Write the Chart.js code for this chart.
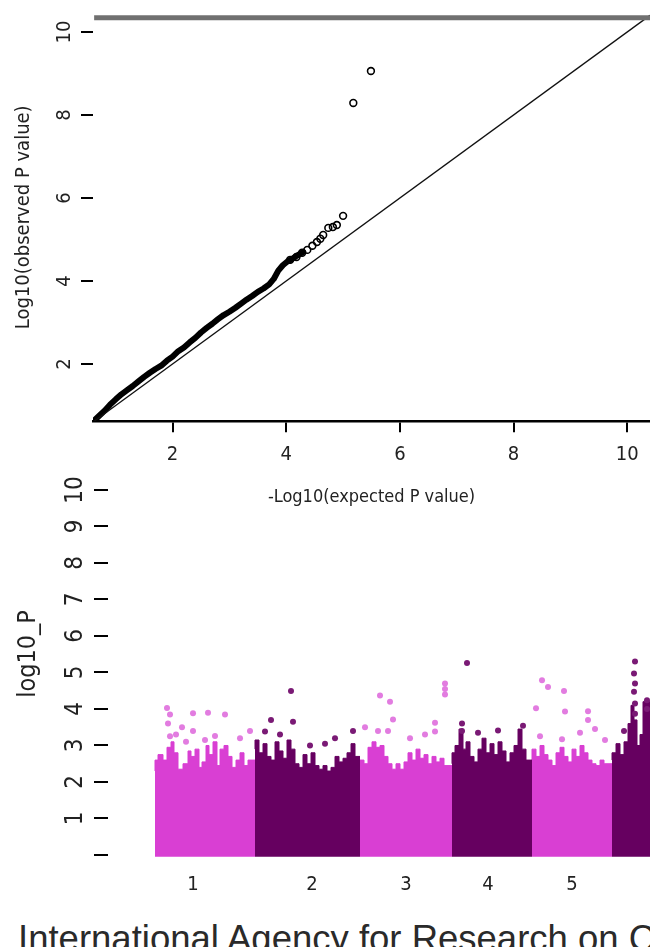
<!DOCTYPE html>
<html>
  <head>
    <title>QQ plot and Manhattan plot</title>
    <script src="https://cdn.jsdelivr.net/npm/chart.js"></script>
    <style>
      html, body { margin: 0; padding: 0; overflow: hidden; background: #fff; }
      body { width: 650px; height: 947px; position: relative; }
      canvas { position: absolute; left: 0; }
      #qq { top: 0; }
      #man { top: 470px; }
      #caption {
        position: absolute; left: 18px; top: 921px;
        font: 36.5px "Liberation Sans", Arial, sans-serif; line-height: 36.5px;
        color: #2a2a2a; white-space: nowrap;
      }
    </style>
  </head>
  <body>
    <canvas id="qq" width="650" height="520" style="width:650px;height:520px"></canvas>
    <canvas id="man" width="650" height="430" style="width:650px;height:430px"></canvas>
    <div id="caption">International Agency for Research on Cancer</div>
    <script>
      // ---- QQ plot data ----
      const qqBandExp = [0.62, 0.70, 0.80, 0.90, 1.00, 1.10, 1.20, 1.30, 1.40, 1.50, 1.60, 1.70, 1.80, 1.90, 2.00, 2.10, 2.20, 2.30, 2.40, 2.50, 2.60, 2.70, 2.80, 2.90, 3.00, 3.10, 3.20, 3.30, 3.40, 3.50, 3.60, 3.70, 3.78, 3.86, 3.94, 4.02, 4.10, 4.20, 4.30];
      const qqBandObs = [0.64, 0.74, 0.87, 1.02, 1.15, 1.27, 1.37, 1.47, 1.58, 1.69, 1.79, 1.88, 1.96, 2.08, 2.18, 2.31, 2.40, 2.52, 2.63, 2.76, 2.87, 2.97, 3.08, 3.18, 3.26, 3.35, 3.45, 3.55, 3.64, 3.74, 3.82, 3.92, 4.05, 4.25, 4.38, 4.47, 4.53, 4.62, 4.70];
      const qqPtExp = [4.07, 4.18, 4.28, 4.37, 4.46, 4.54, 4.60, 4.65, 4.74, 4.82, 4.89, 5.00, 5.18, 5.49];
      const qqPtObs = [4.51, 4.58, 4.68, 4.75, 4.85, 4.94, 5.02, 5.11, 5.28, 5.30, 5.35, 5.57, 8.29, 9.06];
      const qqTopLine = 10.34;
      const qqTicks = [2, 4, 6, 8, 10];
      const qqTickLabels = ["2", "4", "6", "8", "10"];

      // ---- Manhattan data (position along genome, -log10 P) ----
      const chrNames = ["1", "2", "3", "4", "5"];
      const chrLabelPos = [38, 157, 251, 333, 417];
      const chr1Env = [[0,2.3],[3,2.6],[8,2.75],[12,2.6],[16,2.95],[19,3.1],[23,2.8],[28,2.35],[33,2.5],[36,2.85],[40,2.7],[44,2.9],[47,2.4],[51,2.55],[54,3.0],[58,2.75],[62,3.1],[65,2.45],[69,2.9],[73,3.0],[77,2.7],[81,2.4],[85,2.6],[89,2.8],[93,2.45],[97,2.6],[100,2.6]];
      const chr2Env = [[100,2.9],[104,3.15],[108,2.8],[112,3.05],[116,2.7],[120,2.6],[124,3.1],[128,2.85],[132,2.65],[136,3.15],[140,2.9],[144,2.5],[148,2.4],[152,2.75],[156,2.5],[160,2.8],[164,2.45],[168,2.35],[172,2.45],[176,2.3],[180,2.4],[184,2.7],[188,2.55],[192,2.65],[196,2.8],[200,3.05],[203,2.7],[205,2.7]];
      const chr3Env = [[205,2.45],[209,2.6],[213,2.5],[217,2.95],[221,3.1],[225,2.95],[229,3.0],[233,2.7],[237,2.5],[241,2.35],[245,2.5],[249,2.35],[253,2.55],[257,2.8],[261,2.6],[265,2.9],[269,2.65],[273,2.75],[277,2.5],[281,2.7],[285,2.55],[289,2.65],[293,2.45],[297,2.45]];
      const chr4Env = [[297,2.5],[300,2.8],[304,3.0],[308,3.45],[311,2.9],[315,3.1],[319,2.7],[323,2.55],[327,2.9],[331,3.2],[335,2.8],[339,3.05],[343,2.75],[347,3.1],[351,2.85],[355,2.55],[359,2.8],[363,3.0],[367,3.45],[371,2.9],[375,2.6],[377,2.6]];
      const chr5Env = [[377,2.55],[381,2.9],[385,2.7],[389,3.0],[393,2.75],[397,2.6],[401,2.45],[405,2.8],[409,2.95],[413,2.7],[417,2.55],[421,2.9],[425,2.7],[429,3.0],[433,2.8],[437,2.6],[441,2.5],[445,2.45],[449,2.6],[453,2.5],[457,2.5]];
      const chr6Env = [[457,2.6],[461,2.8],[465,3.05],[469,2.75],[473,3.1],[476,3.6],[479,4.1],[482,3.7],[485,3.0],[488,3.3],[491,4.2],[495,4.2]];
      const pinkHits = [[12,4.03],[15,3.85],[13,3.6],[27,3.5],[38,3.88],[53,3.9],[70,3.85],[38,3.4],[15,3.25],[95,3.4],[60,3.26],[21,3.3],[50,3.15],[85,3.2],[31,3.1],
        [225,4.37],[235,4.2],[238,3.71],[290,4.7],[290,4.55],[290,4.4],[210,3.5],[280,3.62],[280,3.38],[233,3.4],[223,3.4],[255,3.2],[270,3.3],
        [387,4.79],[393,4.6],[409,4.49],[381,4.02],[410,3.93],[433,3.94],[433,3.7],[440,3.45],[450,3.15],[385,3.25],[407,3.17],[425,3.35]];
      const darkHits = [[136,4.49],[116,3.7],[138,3.65],[110,3.38],[198,3.4],[180,3.2],[125,3.3],[170,3.05],[155,3.0],
        [312,5.26],[368,3.54],[343,3.41],[323,3.35],[307,3.6],[307,3.4],
        [480,5.3],[479,4.97],[480,4.7],[479,4.47],[480,4.15],[480,3.87],[492,4.24],[492,4.0],[469,3.4]];
      const manTicks = [0, 1, 2, 3, 4, 5, 6, 7, 8, 9, 10];
      const manTickLabels = ["", "1", "2", "3", "4", "5", "6", "7", "8", "9", "10"];

      const narrow = "'Liberation Sans Narrow', 'DejaVu Sans Condensed', 'Arial Narrow', sans-serif";
      const PINK = "#d93fd3", DARK = "#660060";

      // y tick labels in R style: rotated, reading bottom to top
      const rLabels = {
        id: "rLabels",
        afterDraw(chart, args, o) {
          const ctx = chart.ctx, s = chart.scales.y;
          ctx.save();
          ctx.fillStyle = "#222";
          ctx.textAlign = "center";
          ctx.textBaseline = "middle";
          ctx.font = o.size + "px " + narrow;
          s.ticks.forEach(t => {
            if (!t.label) return;
            ctx.save();
            ctx.translate(o.x, s.getPixelForValue(t.value));
            ctx.rotate(-Math.PI / 2);
            ctx.fillText(t.label, 0, 0);
            ctx.restore();
          });
          if (o.title) {
            ctx.font = o.titleSize + "px " + narrow;
            ctx.translate(o.titleX, o.titleY);
            ctx.rotate(-Math.PI / 2);
            ctx.fillText(o.title, 0, 0);
          }
          ctx.restore();
        },
      };

      const toXY = (xs, ys) => xs.map((x, i) => ({ x, y: ys[i] }));
      const pairs = arr => arr.map(([x, y]) => ({ x, y }));
      const noPadX = s => { s.paddingLeft = 0; s.paddingRight = 0; };
      const noPadY = s => { s.paddingTop = 0; s.paddingBottom = 0; };

      new Chart(document.getElementById("qq"), {
        type: "scatter",
        data: {
          datasets: [
            { type: "line", data: [{ x: 0.62, y: qqTopLine }, { x: 10.4, y: qqTopLine }], borderColor: "#707070", borderWidth: 5, pointRadius: 0, clip: false },
            { type: "line", data: [{ x: 0.62, y: 0.62 }, { x: 10.4, y: 10.4 }], borderColor: "#111", borderWidth: 1.3, pointRadius: 0 },
            { type: "line", data: toXY(qqBandExp, qqBandObs), borderColor: "#000", borderWidth: 6, pointRadius: 0, borderCapStyle: "round", borderJoinStyle: "round" },
            { data: toXY(qqPtExp, qqPtObs), pointRadius: 3.4, borderWidth: 1.6, borderColor: "#000", backgroundColor: "rgba(0,0,0,0)" },
          ],
        },
        options: {
          responsive: false,
          animation: false,
          devicePixelRatio: 1,
          layout: { autoPadding: false, padding: { top: 13.3, left: 0, right: 0, bottom: 0 } },
          plugins: {
            legend: { display: false },
            tooltip: { enabled: false },
            rLabels: { x: 65, size: 20 },
          },
          scales: {
            x: {
              type: "linear",
              min: 0.6,
              max: 10.4,
              afterBuildTicks: s => { s.ticks = qqTicks.map(v => ({ value: v })); },
              afterFit: s => { s.height = 98.7; noPadX(s); },
              grid: { drawOnChartArea: false, tickLength: 11, color: "#000", lineWidth: 2 },
              border: { color: "#000", width: 2.5 },
              ticks: {
                callback: (v, i) => qqTickLabels[i],
                font: { family: narrow, size: 20 },
                color: "#222",
                padding: 10,
                maxRotation: 0,
                autoSkip: false,
              },
              title: {
                display: true,
                text: "-Log10(expected P value)",
                font: { family: narrow, size: 18 },
                color: "#222",
                padding: { top: 0, bottom: 12 },
              },
            },
            y: {
              type: "linear",
              min: 0.62,
              max: 10.45,
              afterBuildTicks: s => { s.ticks = qqTicks.map(v => ({ value: v })); },
              afterFit: s => { s.width = 93; noPadY(s); },
              grid: { drawOnChartArea: false, tickLength: 12, color: "#000", lineWidth: 2 },
              border: { display: false },
              ticks: { callback: (v, i) => qqTickLabels[i], color: "rgba(0,0,0,0)" },
              title: {
                display: true,
                text: "Log10(observed P value)",
                font: { family: narrow, size: 20 },
                color: "#222",
                padding: { top: 12, bottom: 0 },
              },
            },
          },
        },
        plugins: [rLabels],
      });

      const envSet = (env, color) => ({
        type: "line",
        data: pairs(env),
        stepped: "after",
        fill: { value: -0.05 },
        backgroundColor: color,
        borderColor: color,
        borderWidth: 1,
        pointRadius: 0,
      });

      new Chart(document.getElementById("man"), {
        type: "scatter",
        data: {
          datasets: [
            { data: pairs(pinkHits), pointRadius: 3, borderWidth: 0, backgroundColor: "#e27ce0" },
            { data: pairs(darkHits), pointRadius: 3, borderWidth: 0, backgroundColor: "#7a1a75" },
            envSet(chr1Env, PINK),
            envSet(chr2Env, DARK),
            envSet(chr3Env, PINK),
            envSet(chr4Env, DARK),
            envSet(chr5Env, PINK),
            envSet(chr6Env, DARK),
          ],
        },
        options: {
          responsive: false,
          animation: false,
          devicePixelRatio: 1,
          layout: { autoPadding: false, padding: { top: 9, left: 0, right: 0, bottom: 0 } },
          plugins: {
            legend: { display: false },
            tooltip: { enabled: false },
            rLabels: { x: 75.5, size: 24, title: "log10_P", titleX: 28, titleY: 184, titleSize: 25 },
          },
          scales: {
            x: {
              type: "linear",
              min: -47,
              max: 495,
              afterBuildTicks: s => { s.ticks = chrLabelPos.map(v => ({ value: v })); },
              afterFit: s => { s.height = 41.35; noPadX(s); },
              grid: { display: false },
              border: { display: false },
              ticks: {
                callback: (v, i) => chrNames[i],
                font: { family: narrow, size: 20 },
                color: "#222",
                padding: 6,
                maxRotation: 0,
                autoSkip: false,
              },
            },
            y: {
              type: "linear",
              min: -0.1,
              max: 10.3,
              afterBuildTicks: s => { s.ticks = manTicks.map(v => ({ value: v })); },
              afterFit: s => { s.width = 108; noPadY(s); },
              grid: { drawOnChartArea: false, tickLength: 14, color: "#000", lineWidth: 2 },
              border: { display: false },
              ticks: { callback: (v, i) => manTickLabels[i], color: "rgba(0,0,0,0)" },
            },
          },
        },
        plugins: [rLabels],
      });
    </script>
  </body>
</html>
